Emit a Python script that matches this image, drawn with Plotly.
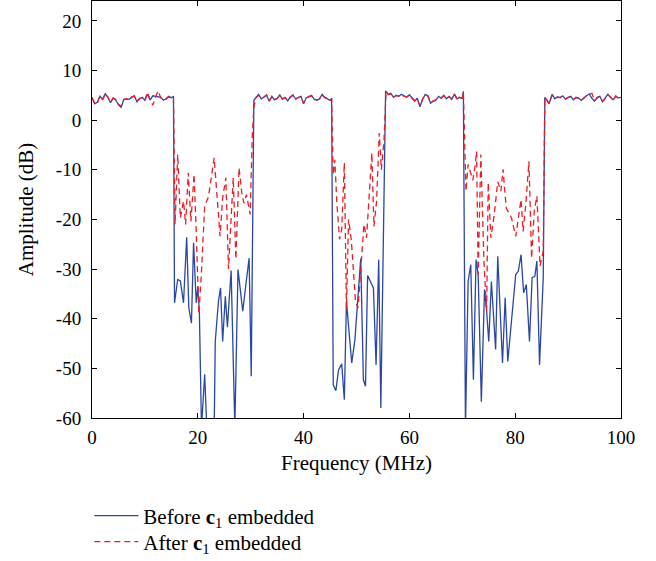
import plotly.graph_objects as go

# ---------------- data ----------------
freq_before = [
    0, 0.5, 1, 1.5, 2, 2.5, 3, 3.5, 4, 4.5, 5, 5.5, 6, 6.5, 7, 7.5, 8, 8.5, 9, 9.5,
    10, 10.5, 11, 11.5, 12, 12.5, 13, 13.5, 14, 14.5, 15, 15.4,
    15.6, 16.2, 16.7, 17.3, 17.9, 18.3, 18.8, 19.2, 19.7, 20.0, 20.3, 20.7, 21.3, 21.7,
    22.2, 22.7, 23.1, 23.3, 23.9, 24.3, 24.7, 25.2, 25.6, 26.3, 27.0, 27.6, 28.5, 29.1,
    29.7, 30.1,
    30.6, 31.0, 31.5, 32.0, 32.5, 33.0, 33.5, 34.0, 34.5, 35.0, 35.5, 36.0, 36.5, 37.0,
    37.5, 38.0, 38.5, 39.0, 39.5, 40.0, 40.5, 41.0, 41.5, 42.0, 42.5, 43.0, 43.5, 44.0,
    44.5, 45.0, 45.3,
    45.6, 46.1, 46.6, 47.2, 47.7, 48.1, 49.1, 49.7, 50.8, 51.3, 51.7, 52.1, 53.2, 53.7,
    54.2, 54.6,
    55.5, 56.0, 56.5, 57.0, 57.5, 58.0, 58.5, 59.0, 59.5, 60.0, 60.5, 61.0, 61.5, 62.0,
    62.5, 63.0, 63.5, 64.0, 64.5, 65.0, 65.5, 66.0, 66.5, 67.0, 67.5, 68.0, 68.5, 69.0,
    69.5, 70.0, 70.2,
    70.6, 71.1, 71.6, 72.1, 72.6, 73.0, 73.6, 74.2, 74.6, 75.0, 75.5, 76.3, 76.7, 77.6,
    78.1, 78.6, 79.3, 80.1, 80.6, 81.1, 81.6, 82.1, 82.7, 83.2, 83.7, 84.1, 84.6, 85.3,
    85.6, 86.0, 86.4, 87.0, 87.5, 88.0, 88.5, 89.0, 89.5, 90.0, 90.5, 91.0, 91.5, 92.0,
    92.5, 93.0, 93.5, 94.0, 94.5, 95.0, 95.5, 96.0, 96.5, 97.0, 97.5, 98.0, 98.5, 99.0,
    99.5, 100,
]
amp_before = [
    4.6, 3.3, 3.6, 4.8, 4.2, 5.3, 4.6, 3.5, 4.5, 4.0, 3.1, 2.6, 4.1, 4.3, 4.2, 4.6, 4.9, 3.7, 4.3, 4.6,
    4.0, 5.2, 4.1, 4.9, 4.8, 4.6, 4.6, 4.0, 4.3, 4.8, 4.5, 4.8,
    -36.8, -32.1, -32.4, -36.8, -23.6, -37.8, -40.9, -24.7, -36.8, -33.5, -38.8, -62.0, -51.2, -62.0,
    -64.0, -63.0, -62.0, -44.6, -36.5, -33.8, -44.6, -35.5, -41.7, -30.3, -62.0, -30.1, -38.5, -33.0,
    -27.8, -51.6,
    4.0, 4.6, 5.2, 4.3, 4.7, 5.0, 3.8, 4.8, 4.1, 4.4, 5.1, 4.2, 4.6, 3.9,
    4.7, 5.0, 4.3, 4.5, 4.8, 3.3, 4.5, 4.7, 5.0, 4.2, 4.0, 4.3, 5.2, 4.6,
    4.3, 4.0, 4.4,
    -53.3, -54.5, -50.3, -49.1, -56.3, -36.5, -48.9, -44.2, -27.9, -52.3, -53.6, -31.3, -33.8, -49.3,
    -28.1, -58.0,
    5.9, 5.2, 5.4, 4.6, 5.0, 4.8, 5.2, 4.9, 4.6, 5.1, 4.5, 3.8, 4.4, 2.7,
    4.2, 5.2, 4.9, 3.4, 3.8, 4.0, 4.8, 4.4, 5.0, 4.3, 4.8, 4.2, 5.2, 4.3,
    4.6, 4.4, 5.8,
    -62.0, -32.5, -29.1, -52.3, -28.1, -31.1, -56.7, -34.1, -38.5, -44.6, -32.5, -46.2, -27.4, -48.9,
    -35.8, -48.6, -41.0, -31.1, -30.4, -27.1, -34.8, -33.1, -44.6, -31.7, -31.5, -28.4, -49.3, -31.8,
    4.6, 4.0, 3.3, 5.2, 4.3, 4.7, 4.5, 4.9, 4.2, 4.6, 4.8, 4.1, 4.6, 4.4,
    4.0, 4.5, 4.9, 5.3, 4.4, 3.8, 4.6, 4.8, 3.7, 4.4, 5.2, 4.6, 4.1, 4.8,
    4.5, 4.6,
]

freq_after = [
    0, 0.5, 1, 1.5, 2, 2.5, 3, 3.5, 4, 4.5, 5, 5.5, 6, 6.5, 7, 7.5, 8, 8.5, 9, 9.5,
    10, 10.5, 11, 11.5, 12, 12.5, 13, 13.5, 14, 14.5, 15, 15.4,
    15.7, 16.2, 16.7, 17.3, 17.7, 18.2, 18.7, 19.3, 19.7, 20.2, 20.7, 21.3, 22.0, 22.5,
    23.1, 24.2, 24.7, 25.3, 25.8, 26.7, 27.2, 27.8, 28.3, 28.7, 29.2, 29.9, 30.3,
    30.6, 31.0, 31.5, 32.0, 32.5, 33.0, 33.5, 34.0, 34.5, 35.0, 35.5, 36.0, 36.5, 37.0,
    37.5, 38.0, 38.5, 39.0, 39.5, 40.0, 40.5, 41.0, 41.5, 42.0, 42.5, 43.0, 43.5, 44.0,
    44.5, 45.0, 45.3,
    45.6, 45.9, 46.3, 46.8, 47.2, 47.7, 48.1, 48.5, 49.0, 49.4, 49.8, 50.3, 50.9, 51.4,
    51.9, 52.4, 52.9, 53.3, 53.8, 54.3, 54.7, 55.2,
    55.6, 56.0, 56.5, 57.0, 57.5, 58.0, 58.5, 59.0, 59.5, 60.0, 60.5, 61.0, 61.5, 62.0,
    62.5, 63.0, 63.5, 64.0, 64.5, 65.0, 65.5, 66.0, 66.5, 67.0, 67.5, 68.0, 68.5, 69.0,
    69.5, 70.0, 70.2,
    70.7, 71.1, 71.6, 72.0, 72.4, 72.7, 73.0, 73.5, 74.1, 74.6, 74.9, 75.4, 76.0, 76.7,
    77.3, 77.7, 78.3, 79.3, 80.1, 80.6, 81.1, 81.5, 82.0, 82.6, 83.1, 83.6, 84.1, 84.7,
    85.3,
    85.6, 86.0, 86.4, 87.0, 87.5, 88.0, 88.5, 89.0, 89.5, 90.0, 90.5, 91.0, 91.5, 92.0,
    92.5, 93.0, 93.5, 94.0, 94.5, 95.0, 95.5, 96.0, 96.5, 97.0, 97.5, 98.0, 98.5, 99.0,
    99.5, 100,
]
amp_after = [
    4.5, 3.4, 3.3, 4.9, 4.1, 5.2, 4.7, 3.6, 4.4, 4.2, 3.2, 2.8, 4.2, 4.3, 4.0, 4.7, 4.8, 3.8, 4.4, 4.5,
    4.1, 5.6, 4.0, 3.0, 4.6, 5.9, 4.5, 4.1, 4.2, 4.7, 4.4, 4.5,
    -21.0, -6.9, -19.7, -16.3, -21.0, -10.6, -20.4, -10.9, -22.4, -39.1, -30.4, -17.3, -15.5, -12.0,
    -7.6, -23.4, -15.7, -11.6, -30.0, -11.6, -28.0, -9.6, -14.5, -16.7, -15.0, -19.0, -3.0,
    2.5, 4.5, 5.0, 4.4, 4.6, 5.1, 3.9, 4.7, 4.2, 4.3, 5.0, 4.3, 4.5, 4.0,
    4.6, 5.1, 4.2, 4.6, 4.7, 3.4, 4.4, 4.8, 4.9, 4.3, 4.1, 4.2, 5.1, 4.5,
    4.4, 3.9, 4.3,
    -11.0, -8.0, -17.0, -24.0, -22.0, -8.6, -38.0, -20.0, -24.0, -30.0, -36.5, -37.8, -27.8, -21.0,
    -23.7, -15.0, -6.6, -21.4, -16.3, -2.6, -10.0, -4.0,
    5.8, 5.1, 5.3, 4.7, 4.9, 4.9, 5.1, 4.8, 4.7, 5.0, 4.4, 3.9, 4.3, 2.8,
    4.3, 5.1, 4.8, 3.5, 3.9, 4.1, 4.7, 4.5, 4.9, 4.4, 4.7, 4.3, 5.3, 4.2,
    4.5, 4.5, 5.7,
    -14.3, -8.9, -10.9, -12.1, -9.3, -6.3, -31.1, -6.9, -28.8, -38.5, -12.6, -23.7, -19.4, -12.4,
    -14.3, -9.9, -17.7, -19.7, -23.4, -20.0, -16.0, -22.4, -17.0, -8.3, -27.8, -18.3, -15.3, -29.4,
    -26.4,
    4.5, 4.1, 3.4, 5.1, 4.4, 4.6, 4.6, 4.8, 4.3, 4.5, 4.7, 4.2, 4.5, 4.5,
    4.1, 4.4, 5.0, 5.2, 5.4, 3.9, 4.5, 4.7, 3.8, 4.3, 5.1, 4.7, 4.0, 4.9,
    4.4, 4.5,
]

series_names = ["Before <b>c</b><sub>1</sub> embedded", "After <b>c</b><sub>1</sub> embedded"]
x_tick_vals = [0, 20, 40, 60, 80, 100]
x_tick_text = ["0", "20", "40", "60", "80", "100"]
y_tick_vals = [-60, -50, -40, -30, -20, -10, 0, 10, 20]
y_tick_text = ["-60", "-50", "-40", "-30", "-20", "-10", "0", "10", "20"]
x_title = "Frequency (MHz)"
y_title = "Amplitude (dB)"

# ---------------- figure ----------------
FONT = "Liberation Serif"
fig = go.Figure()
fig.add_trace(go.Scatter(
    x=freq_before, y=amp_before, mode="lines", name=series_names[0],
    line=dict(color="#2B47A6", width=1.3), legend="legend",
))
fig.add_trace(go.Scatter(
    x=freq_after, y=amp_after, mode="lines", name=series_names[1],
    line=dict(color="#EE1C25", width=1.3, dash="6px,4px"), legend="legend2",
))

axis_common = dict(
    showgrid=False, zeroline=False, showline=True, linecolor="black", linewidth=1,
    mirror="ticks", ticks="inside", ticklen=5, tickcolor="black", tickwidth=1,
    tickfont=dict(family=FONT, size=19, color="black"), automargin=False,
)
fig.update_xaxes(range=[0, 100], tickvals=x_tick_vals, ticktext=x_tick_text,
                 ticklabelstandoff=2,
                 title=dict(text=x_title, font=dict(family=FONT, size=21, color="black"), standoff=8),
                 **axis_common)
fig.update_yaxes(range=[-60, 24], tickvals=y_tick_vals, ticktext=y_tick_text,
                 ticklabelstandoff=6,
                 title=dict(text=y_title, font=dict(family=FONT, size=21, color="black"), standoff=16),
                 **axis_common)

leg_common = dict(
    xanchor="left", yanchor="middle",
    font=dict(family=FONT, size=21, color="black"),
    bgcolor="rgba(0,0,0,0)", itemwidth=44,
)
fig.update_layout(
    width=656, height=561,
    margin=dict(l=92, r=35, t=1, b=143, autoexpand=False),
    paper_bgcolor="white", plot_bgcolor="white",
    font=dict(family=FONT, color="black"),
    showlegend=True,
    legend=dict(x=-0.005, y=(418 - 516) / 417, **leg_common),
    legend2=dict(x=-0.005, y=(418 - 542) / 417, **leg_common),
)

fig.write_html(
    "out.html",
    config={"displayModeBar": False, "responsive": False},
    post_script="document.body.style.margin='0';document.body.style.overflow='hidden';",
)
